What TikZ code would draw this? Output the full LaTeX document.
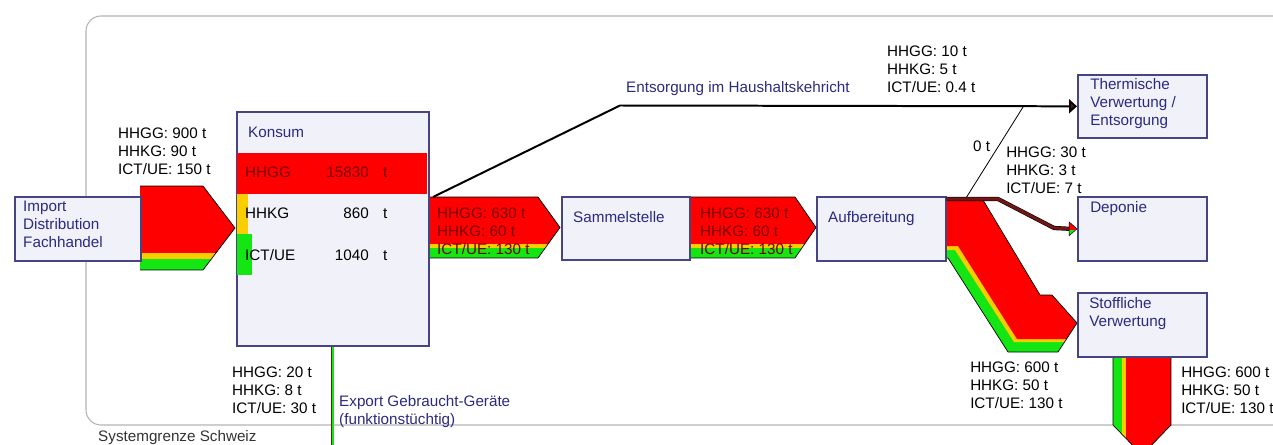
\documentclass[tikz,border=0pt]{standalone}
\usepackage{fontspec}
\setmainfont{Liberation Sans}
\usetikzlibrary{arrows.meta,positioning,calc}

\definecolor{boxfill}{RGB}{241,241,250}
\definecolor{boxline}{RGB}{70,68,130}
\definecolor{boxtext}{RGB}{42,42,128}
\definecolor{flowred}{RGB}{255,0,0}
\definecolor{flowyellow}{RGB}{248,206,0}
\definecolor{flowgreen}{RGB}{20,230,20}
\definecolor{flowtext}{RGB}{120,0,0}
\definecolor{waste}{RGB}{112,22,22}
\definecolor{sysline}{RGB}{180,180,180}

\tikzset{
  procbox/.style={draw=boxline, fill=boxfill, line width=1.4pt, anchor=north west, inner sep=0pt},
  boxlabel/.style={text=boxtext, align=left, inner sep=0pt, anchor=north west},
  qty/.style={align=left, inner sep=0pt, anchor=north west},
  flowqty/.style={qty, text=flowtext},
  flowedge/.style={draw=black, line width=0.6pt, line join=round},
  wasteline/.style={line width=1.7pt, -{Triangle[length=2.4mm, width=4.2mm, fill=waste]}},
  deponieflow/.style={draw=black, line width=0.5pt, double=waste, double distance=2.6pt},
  exportline/.style={draw=waste, line width=0.5pt, double=flowgreen, double distance=1.8pt},
}

\begin{document}
\begin{tikzpicture}[x=0.3mm, y=-0.3mm, font=\fontsize{13}{15.4}\selectfont]
    \useasboundingbox (0,0) rectangle (1273,445);
    \clip (0,0) rectangle (1273,445);

    % System boundary
    \draw[sysline, line width=0.9pt, rounded corners=4.5mm] (86,16) rectangle (1290,425);
    \node[qty, text=black!80] (sysname) at (98,430) {Systemgrenze Schweiz};

    % Horizontal flows with colour bands
    \foreach \xa/\xc/\xt/\ya/\yr/\yy/\yb/\ytip in {140/203/235/186/253/259/270/228, 428/538/560/197/244/248/258/227.5, 689/795/816/197/244/248/258/227.5} {
        \begin{scope}
            \clip (\xa,\ya) -- (\xc,\ya) -- (\xt,\ytip) -- (\xc,\yb) -- (\xa,\yb) -- cycle;
            \fill[flowred] (\xa,\ya) rectangle (\xt,\yr);
            \fill[flowyellow] (\xa,\yr) rectangle (\xt,\yy);
            \fill[flowgreen] (\xa,\yy) rectangle (\xt,\yb);
        \end{scope}
        \draw[flowedge] (\xa,\ya) -- (\xc,\ya) -- (\xt,\ytip) -- (\xc,\yb) -- (\xa,\yb);
    }

    % Flow to Stoffliche Verwertung
    \fill[flowgreen] (945,200) -- (983,200) -- (1040,295) -- (1052,295) -- (1077,323) -- (1058,352) -- (1008,352) -- (948,258) -- (945,258) -- cycle;
    \fill[flowyellow] (945,200) -- (983,200) -- (1040,295) -- (1052,295) -- (1077,323) -- (1064.6,342) -- (1014,342) -- (955,250) -- (945,250) -- cycle;
    \fill[flowred] (945,200) -- (983,200) -- (1040,295) -- (1052,295) -- (1077,323) -- (1066.5,339) -- (1017,339) -- (958,246) -- (945,246) -- cycle;
    \draw[flowedge] (945,200) -- (983,200) -- (1040,295) -- (1052,295) -- (1077,323) -- (1058,352) -- (1008,352) -- (948,258) -- (945,258);

    % Flow leaving Stoffliche Verwertung
    \begin{scope}
        \clip (1113,356) -- (1171,356) -- (1171,425) -- (1142,455) -- (1113,425) -- cycle;
        \fill[flowgreen] (1113,356) rectangle (1122,460);
        \fill[flowyellow] (1122,356) rectangle (1126,460);
        \fill[flowred] (1126,356) rectangle (1171,460);
    \end{scope}
    \draw[flowedge] (1113,356) -- (1113,425) -- (1142,455) -- (1171,425) -- (1171,356);

    % Processes
    \node[procbox, minimum width=37.8mm, minimum height=19.2mm] (import) at (14,196) {};
    \node[procbox, minimum width=57.6mm, minimum height=70.2mm] (konsum) at (236,111) {};
    \node[procbox, minimum width=38.4mm, minimum height=18.9mm] (sammel) at (561,196) {};
    \node[procbox, minimum width=38.7mm, minimum height=19.2mm] (aufb) at (816,196) {};
    \node[procbox, minimum width=38.7mm, minimum height=18.9mm] (therm) at (1077,74) {};
    \node[procbox, minimum width=38.7mm, minimum height=19.2mm] (depo) at (1077,196) {};
    \node[procbox, minimum width=38.7mm, minimum height=19.2mm] (stoff) at (1077,292) {};

    \node[boxlabel, below right=1.5mm and 2.7mm of import.north west] (importtxt) {Import\\Distribution\\Fachhandel};
    \node[boxlabel, below right=4.8mm and 3.6mm of konsum.north west] (konsumtxt) {Konsum};
    \node[boxlabel, below right=4.5mm and 3.6mm of sammel.north west] (sammeltxt) {Sammelstelle};
    \node[boxlabel, below right=4.5mm and 3.6mm of aufb.north west] (aufbtxt) {Aufbereitung};
    \node[boxlabel, below right=1.35mm and 3.9mm of therm.north west] (thermtxt) {Thermische\\Verwertung /\\Entsorgung};
    \node[boxlabel, below right=1.5mm and 3.9mm of depo.north west] (depotxt) {Deponie};
    \node[boxlabel, below right=1.5mm and 3.6mm of stoff.north west] (stofftxt) {Stoffliche\\Verwertung};

    % Stock in Konsum
    \fill[flowred] (237,153) rectangle (427,194);
    \fill[flowyellow] (237,194) rectangle (248,234);
    \fill[flowgreen] (237,234) rectangle (252,275);
    \foreach \name/\val/\y/\col in {HHGG/15830/178/flowtext, HHKG/860/218/black, {ICT/UE}/1040/260/black} {
        \node[inner sep=0pt, anchor=base west, text=\col] (name\y) at (245,\y) {\name};
        \node[inner sep=0pt, anchor=base east, text=\col] (val\y) at (369,\y) {\val};
        \node[inner sep=0pt, anchor=base west, text=\col] (unit\y) at (383,\y) {t};
    }

    % Connectors
    \coordinate (kout) at (433,197);
    \draw[wasteline] (kout) -- (620,105.5) -- (therm.west);
    \coordinate (zbot) at (966,198);
    \coordinate (ztop) at (1024,105.5);
    \draw[line width=0.7pt] (zbot) -- (ztop);
    \draw[deponieflow] ($(aufb.north east)+(0,3)$) -- (998,199) -- (1054,228) -- ($(depo.west)+(-7,0)$);
    \begin{scope}
        \clip ($(depo.west)+(-8,-7)$) -- (depo.west) -- ($(depo.west)+(-8,7)$) -- cycle;
        \fill[flowred] ($(depo.west)+(-8,-7)$) rectangle ($(depo.west)+(0,1)$);
        \fill[flowgreen] ($(depo.west)+(-8,1)$) rectangle ($(depo.west)+(0,7)$);
    \end{scope}
    \draw[flowedge, line width=0.4pt] ($(depo.west)+(-8,-7)$) -- (depo.west) -- ($(depo.west)+(-8,7)$) -- cycle;
    \draw[exportline] (konsum.south) -- ++(0,110);

    % Quantities
    \node[qty] (qimport) at (118,128) {HHGG: 900 t\\HHKG: 90 t\\ICT/UE: 150 t};
    \node[flowqty] (qsammel) at (437,208) {HHGG: 630 t\\HHKG: 60 t\\ICT/UE: 130 t};
    \node[flowqty] (qaufb) at (700,208) {HHGG: 630 t\\HHKG: 60 t\\ICT/UE: 130 t};
    \node[qty] (qtherm) at (887,46) {HHGG: 10 t\\HHKG: 5 t\\ICT/UE: 0.4 t};
    \node[boxlabel] (kehricht) at (626,81) {Entsorgung im Haushaltskehricht};
    \node[qty] (qzero) at (973,141) {0 t};
    \node[qty] (qdepo) at (1006,147) {HHGG: 30 t\\HHKG: 3 t\\ICT/UE: 7 t};
    \node[qty] (qstoff) at (970,362) {HHGG: 600 t\\HHKG: 50 t\\ICT/UE: 130 t};
    \node[qty] (qout) at (1181,367) {HHGG: 600 t\\HHKG: 50 t\\ICT/UE: 130 t};
    \node[qty] (qexport) at (232,367) {HHGG: 20 t\\HHKG: 8 t\\ICT/UE: 30 t};
    \node[boxlabel] (export) at (339,395) {Export Gebraucht-Geräte\\(funktionstüchtig)};
\end{tikzpicture}
\end{document}
